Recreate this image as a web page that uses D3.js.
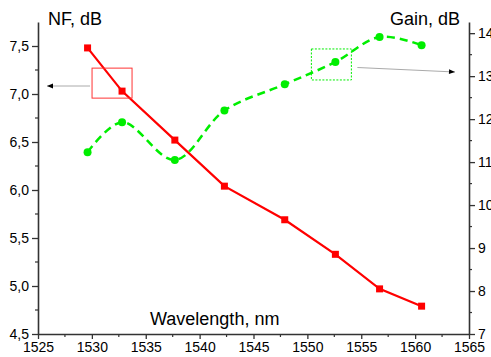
<!DOCTYPE html>
<html><head><meta charset="utf-8">
<script src="https://cdn.jsdelivr.net/npm/d3@7"></script>
<style>body{margin:0;background:#fff}svg{display:block;font-family:Arial,"Liberation Sans",sans-serif}</style>
</head><body><svg id="c" width="491" height="357"></svg>
<script>
const wavelength = [1529.6, 1532.8, 1537.7, 1542.3, 1547.9, 1552.6, 1556.7, 1560.6];
const nf = [7.48, 7.03, 6.52, 6.04, 5.69, 5.33, 4.97, 4.79];
const gain = [11.23, 11.93, 11.05, 12.2, 12.81, 13.33, 13.91, 13.72];
const xTicks = [1525, 1530, 1535, 1540, 1545, 1550, 1555, 1560, 1565];
const nfTicks = [4.5, 5.0, 5.5, 6.0, 6.5, 7.0, 7.5];
const gainTicks = [7, 8, 9, 10, 11, 12, 13, 14];

const svg = d3.select("#c");
const L = 38, R = 469, T = 22, B = 334;
const x = d3.scaleLinear().domain([1525, 1565]).range([L, R]);
const yL = d3.scaleLinear().domain([4.5, 7.75]).range([B, T]);
const yR = d3.scaleLinear().domain([7, 14.26]).range([B, T]);
const fmt = d => d3.format(".1f")(d).replace(".", ",");
const axisColor = "#333";

function styleAxis(g){
  g.select(".domain").attr("stroke", axisColor).attr("stroke-width", 1.6);
  g.selectAll(".tick line").attr("stroke", axisColor).attr("stroke-width", 1.3);
  g.selectAll("text").attr("fill", "#000").attr("font-size", 14);
}
// minor ticks
const minorX = d3.range(1527.5, 1565, 5);
const minorL = d3.range(4.75, 7.75, 0.5);
const minorR = d3.range(7.5, 14.2, 1);

const gx = svg.append("g").attr("transform", `translate(0,${B})`)
  .call(d3.axisBottom(x).tickValues(xTicks).tickFormat(d3.format("d")).tickSize(5).tickSizeOuter(0).tickPadding(3));
styleAxis(gx);
gx.selectAll(".minor").data(minorX).enter().append("line")
  .attr("x1", d => x(d)).attr("x2", d => x(d)).attr("y1", 0).attr("y2", 3)
  .attr("stroke", axisColor).attr("stroke-width", 1.2);

const gl = svg.append("g").attr("transform", `translate(${L},0)`)
  .call(d3.axisLeft(yL).tickValues(nfTicks).tickFormat(fmt).tickSize(6).tickSizeOuter(0).tickPadding(3));
styleAxis(gl);
gl.selectAll(".minor").data(minorL).enter().append("line")
  .attr("y1", d => yL(d)).attr("y2", d => yL(d)).attr("x1", 0).attr("x2", -3)
  .attr("stroke", axisColor).attr("stroke-width", 1.2);

const gr = svg.append("g").attr("transform", `translate(${R},0)`)
  .call(d3.axisRight(yR).tickValues(gainTicks).tickFormat(d3.format("d")).tickSize(6).tickSizeOuter(0).tickPadding(3));
styleAxis(gr);
gr.selectAll(".minor").data(minorR).enter().append("line")
  .attr("y1", d => yR(d)).attr("y2", d => yR(d)).attr("x1", 0).attr("x2", 3)
  .attr("stroke", axisColor).attr("stroke-width", 1.2);

// Axis titles
svg.append("text").attr("x", 48).attr("y", 25).attr("font-size", 18).text("NF, dB");
svg.append("text").attr("x", 460).attr("y", 25).attr("font-size", 18).attr("text-anchor", "end").text("Gain, dB");
svg.append("text").attr("x", 150).attr("y", 325).attr("font-size", 18).text("Wavelength, nm");

const nfData = wavelength.map((w, i) => ({w, v: nf[i]}));
const gainData = wavelength.map((w, i) => ({w, v: gain[i]}));

// Gain dashed spline
svg.append("path").datum(gainData)
  .attr("d", d3.line().x(d => x(d.w)).y(d => yR(d.v)).curve(d3.curveCatmullRom.alpha(0.5)))
  .attr("fill", "none").attr("stroke", "#00ee00").attr("stroke-width", 2.5).attr("stroke-dasharray", "8,5");
svg.selectAll(".gpt").data(gainData).enter().append("circle")
  .attr("cx", d => x(d.w)).attr("cy", d => yR(d.v)).attr("r", 4).attr("fill", "#00ee00");

// NF line
svg.append("path").datum(nfData)
  .attr("d", d3.line().x(d => x(d.w)).y(d => yL(d.v)))
  .attr("fill", "none").attr("stroke", "#ff0000").attr("stroke-width", 2.2);
svg.selectAll(".npt").data(nfData).enter().append("rect")
  .attr("x", d => x(d.w) - 3.5).attr("y", d => yL(d.v) - 3.5).attr("width", 7).attr("height", 7).attr("fill", "#ff0000");

// Annotations
const defs = svg.append("defs");
defs.append("marker").attr("id", "ah").attr("viewBox", "0 0 10 10").attr("refX", 10).attr("refY", 5)
  .attr("markerWidth", 8).attr("markerHeight", 6).attr("orient", "auto-start-reverse")
  .append("path").attr("d", "M0,1 L10,5 L0,9 Z").attr("fill", "#000");

const p1 = nfData[1];
svg.append("rect").attr("x", x(p1.w) - 30).attr("y", yL(p1.v) - 23).attr("width", 40).attr("height", 30)
  .attr("fill", "none").attr("stroke", "#ff3333").attr("stroke-width", 1);
svg.append("line").attr("x1", x(p1.w) - 32).attr("y1", 86).attr("x2", 47).attr("y2", 86)
  .attr("stroke", "#aaa").attr("stroke-width", 1).attr("marker-end", "url(#ah)");

const p2 = gainData[5];
svg.append("rect").attr("x", x(p2.w) - 24).attr("y", yR(p2.v) - 13).attr("width", 40).attr("height", 31)
  .attr("fill", "none").attr("stroke", "#00ee00").attr("stroke-width", 1).attr("stroke-dasharray", "2,1.5");
svg.append("line").attr("x1", x(p2.w) + 22).attr("y1", 67.5).attr("x2", 455).attr("y2", 72)
  .attr("stroke", "#aaa").attr("stroke-width", 1).attr("marker-end", "url(#ah)");
</script></body></html>
